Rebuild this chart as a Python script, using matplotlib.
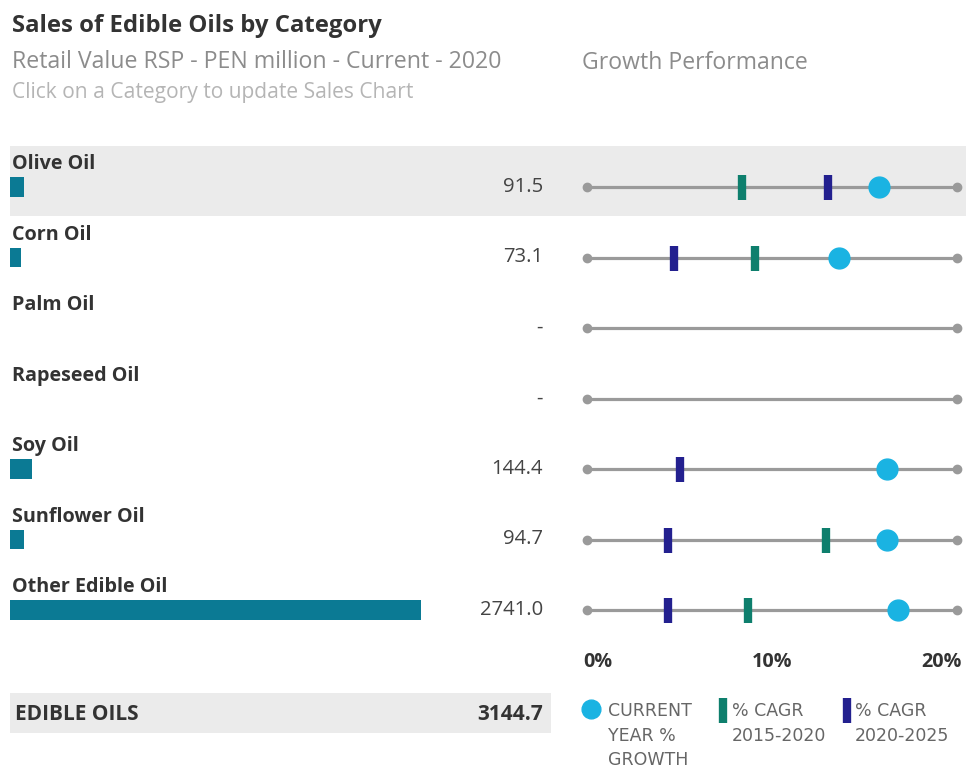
import numpy as np
import matplotlib.pyplot as plt
from matplotlib.transforms import blended_transform_factory as blend
from matplotlib.transforms import ScaledTranslation
from matplotlib.patches import Rectangle
from matplotlib.lines import Line2D

# sales by category (PEN million) and growth rates (%)
categories = ["Olive Oil", "Corn Oil", "Palm Oil", "Rapeseed Oil",
              "Soy Oil", "Sunflower Oil", "Other Edible Oil"]
sales = [91.5, 73.1, np.nan, np.nan, 144.4, 94.7, 2741.0]
growth_current = [15.8, 13.6, np.nan, np.nan, 16.2, 16.2, 16.8]
cagr_2015_2020 = [8.4, 9.1, np.nan, np.nan, np.nan, 12.9, 8.7]
cagr_2020_2025 = [13.0, 4.7, np.nan, np.nan, 5.0, 4.4, 4.4]
total_label = "EDIBLE OILS"
total_sales = 3144.7
growth_ticks = [0, 10, 20]
growth_ticklabels = ["0%", "10%", "20%"]

C_BAR = '#0b7a94'
C_CUR = '#1ab3e2'
C_G1 = '#0e7f6d'
C_G2 = '#23208f'
C_LINE = '#9a9a9a'
C_BAND = '#ebebeb'
C_TXT = '#333333'

plt.rcParams['font.family'] = ['Open Sans', 'DejaVu Sans']

W, H = 966, 769
fig = plt.figure(figsize=(W / 100, H / 100), dpi=100)

def fx(px):
    return px / W

def fy(py):
    return 1 - py / H

# rows share one vertical scale across the panels
row0, step = 187, 70.5
ylo, yhi = -0.6, 6.6
top_px = row0 + ylo * step
bot_px = row0 + yhi * step
ax_bottom = fy(bot_px)
ax_height = (bot_px - top_px) / H
rows = np.arange(len(categories))

#------------------------------------------------------------
# background band for the selected category
#------------------------------------------------------------
bg = fig.add_axes([fx(10), ax_bottom, fx(956), ax_height])
bg.set_xlim(0, 1)
bg.set_ylim(yhi, ylo)
bg.axis('off')
bg.axhspan(-0.58, 0.41, color=C_BAND, lw=0)

#------------------------------------------------------------
# sales bars
#------------------------------------------------------------
axl = fig.add_axes([fx(10), ax_bottom, fx(411), ax_height])
axl.set_xlim(0, np.nanmax(sales))
axl.set_ylim(yhi, ylo)
axl.axis('off')
axl.barh(rows, sales, height=0.28, color=C_BAR)

tr = blend(fig.transFigure, axl.transData)
for i, (cat, val) in enumerate(zip(categories, sales)):
    axl.text(fx(12), i - 0.255, cat, transform=tr, va='baseline', ha='left',
             fontsize=14.2, fontweight='bold', color=C_TXT)
    txt = '-' if np.isnan(val) else '%.1f' % val
    axl.text(fx(543), i, txt, transform=tr, va='center', ha='right',
             fontsize=14.6, color='#444444')

#------------------------------------------------------------
# growth dumbbells
#------------------------------------------------------------
axr = fig.add_axes([fx(587), ax_bottom, fx(370), ax_height])
axr.set_xlim(0, 20)
axr.set_ylim(yhi, ylo)
axr.patch.set_visible(False)
for s in axr.spines.values():
    s.set_visible(False)
for i in rows:
    axr.plot([0, 20], [i, i], color=C_LINE, lw=2.3, marker='o', ms=6,
             clip_on=False, zorder=1)
axr.plot(cagr_2015_2020, rows, ls='none', marker='|', ms=18, mew=6,
         color=C_G1, zorder=3)
axr.plot(cagr_2020_2025, rows, ls='none', marker='|', ms=18, mew=6,
         color=C_G2, zorder=3)
axr.plot(growth_current, rows, ls='none', marker='o', ms=15,
         color=C_CUR, zorder=4)
axr.set_yticks([])
axr.set_xticks(growth_ticks, growth_ticklabels)
axr.tick_params(axis='x', length=0, pad=0, labelsize=14.2, labelcolor=C_TXT)
lbls = axr.get_xticklabels()
for l in lbls:
    l.set_fontweight('bold')
lbls[0].set_ha('left')
lbls[-1].set_ha('right')
# nudge the end labels outward a little
lbls[0].set_transform(lbls[0].get_transform()
                      + ScaledTranslation(-4 / 100, 0, fig.dpi_scale_trans))
lbls[-1].set_transform(lbls[-1].get_transform()
                       + ScaledTranslation(5 / 100, 0, fig.dpi_scale_trans))

#------------------------------------------------------------
# titles
#------------------------------------------------------------
fig.text(fx(12), fy(32), "Sales of Edible Oils by Category", fontsize=17.2,
         fontweight='bold', color=C_TXT, va='baseline')
fig.text(fx(12), fy(68), "Retail Value RSP - PEN million - Current - 2020",
         fontsize=16.7, color='#8c8c8c', va='baseline')
fig.text(fx(12), fy(98), "Click on a Category to update Sales Chart",
         fontsize=15.1, color='#b5b5b5', va='baseline')
fig.text(fx(582), fy(69), "Growth Performance", fontsize=16.6,
         color='#8c8c8c', va='baseline')

#------------------------------------------------------------
# total row
#------------------------------------------------------------
fig.patches.append(Rectangle((fx(10), fy(733)), fx(541), 40 / H,
                             transform=fig.transFigure, color=C_BAND, lw=0))
fig.text(fx(15), fy(714), total_label, fontsize=15, fontweight='bold',
         color=C_TXT, va='center')
fig.text(fx(543), fy(714), '%.1f' % total_sales, fontsize=15,
         fontweight='bold', color=C_TXT, va='center', ha='right')

#------------------------------------------------------------
# legend
#------------------------------------------------------------
fig.add_artist(Line2D([fx(591)], [fy(709)], marker='o', ms=13.5, color=C_CUR,
                      transform=fig.transFigure))
fig.add_artist(Line2D([fx(723)], [fy(710)], marker='|', ms=18, mew=6,
                      color=C_G1, transform=fig.transFigure))
fig.add_artist(Line2D([fx(847)], [fy(710)], marker='|', ms=18, mew=6,
                      color=C_G2, transform=fig.transFigure))
leg_kw = dict(fontsize=12.5, color='#666666', va='top', linespacing=1.47,
              family=['DejaVu Sans'])
fig.text(fx(608), fy(702), "CURRENT\nYEAR %\nGROWTH", **leg_kw)
fig.text(fx(732), fy(702), "% CAGR\n2015-2020", **leg_kw)
fig.text(fx(855), fy(702), "% CAGR\n2020-2025", **leg_kw)

fig.savefig('out.png', dpi=100)
